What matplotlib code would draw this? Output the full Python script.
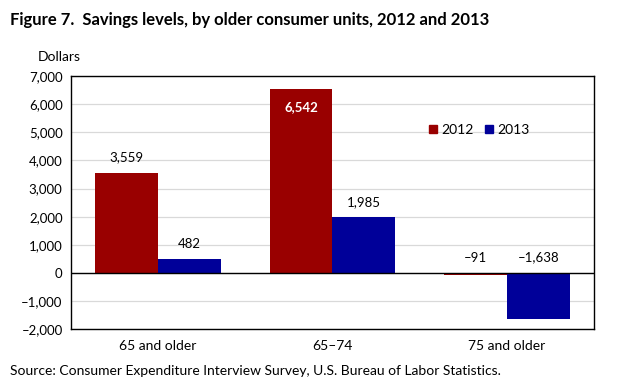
import numpy as np
import matplotlib
matplotlib.use("Agg")
import matplotlib.pyplot as plt
from matplotlib.patches import Patch

categories = ["65 and older", "65\u201374", "75 and older"]
vals_2012 = [3559, 6542, -91]
vals_2013 = [482, 1985, -1638]
yticks = [-2000, -1000, 0, 1000, 2000, 3000, 4000, 5000, 6000, 7000]

RED = "#990000"
BLUE = "#000099"

plt.rcParams["font.family"] = ["Lato", "DejaVu Sans"]


def fmt(v):
    s = f"{abs(v):,}"
    return ("\u2013" + s) if v < 0 else s


fig = plt.figure(figsize=(6.22, 3.90), dpi=100)
ax = fig.add_axes([0.114, 0.156, 0.841, 0.649])

x = np.arange(len(categories))
w = 0.36
b1 = ax.bar(x - w / 2, vals_2012, w, color=RED, label="2012", zorder=3)
b2 = ax.bar(x + w / 2, vals_2013, w, color=BLUE, label="2013", zorder=3)

for bars, vals in ((b1, vals_2012), (b2, vals_2013)):
    for rect, v in zip(bars, vals):
        cx = rect.get_x() + rect.get_width() / 2
        if v > 6000:
            # tallest bar: label sits inside, in white
            ax.text(cx, v - 650, fmt(v), ha="center", va="center",
                    fontsize=9.5, color="white", fontweight="bold", zorder=5)
        else:
            y = max(v, 0) + 330
            ax.text(cx, y, fmt(v), ha="center", va="bottom", fontsize=9.5)

ax.set_xlim(-0.5, 2.5)
ax.set_ylim(-2000, 7000)
ax.set_yticks(yticks)
ax.set_yticklabels([fmt(v) for v in yticks], fontsize=9.5)
ax.set_xticks(x)
ax.set_xticklabels(categories, fontsize=10)
ax.tick_params(axis="both", length=0, pad=6)
ax.tick_params(axis="x", pad=8)
ax.grid(axis="y", color="#d9d9d9", lw=0.9, zorder=0)
ax.axhline(0, color="black", lw=1, zorder=4)
for s in ax.spines.values():
    s.set_linewidth(1)

handles = [Patch(color=RED, label="2012"), Patch(color=BLUE, label="2013")]
ax.legend(handles=handles, loc="upper left", bbox_to_anchor=(0.66, 0.86),
          ncol=2, frameon=False, fontsize=10, handlelength=0.6,
          handleheight=0.6, handletextpad=0.3, columnspacing=0.8)

fig.text(0.016, 0.948, "Figure 7.  Savings levels, by older consumer units, 2012 and 2013",
         fontsize=12, fontweight="bold", ha="left", va="center")
fig.text(0.061, 0.853, "Dollars", fontsize=10, ha="left", va="center")
fig.text(0.016, 0.049, "Source: Consumer Expenditure Interview Survey, U.S. Bureau of Labor Statistics.",
         fontsize=10, ha="left", va="center")

fig.savefig("out.png", dpi=100)
